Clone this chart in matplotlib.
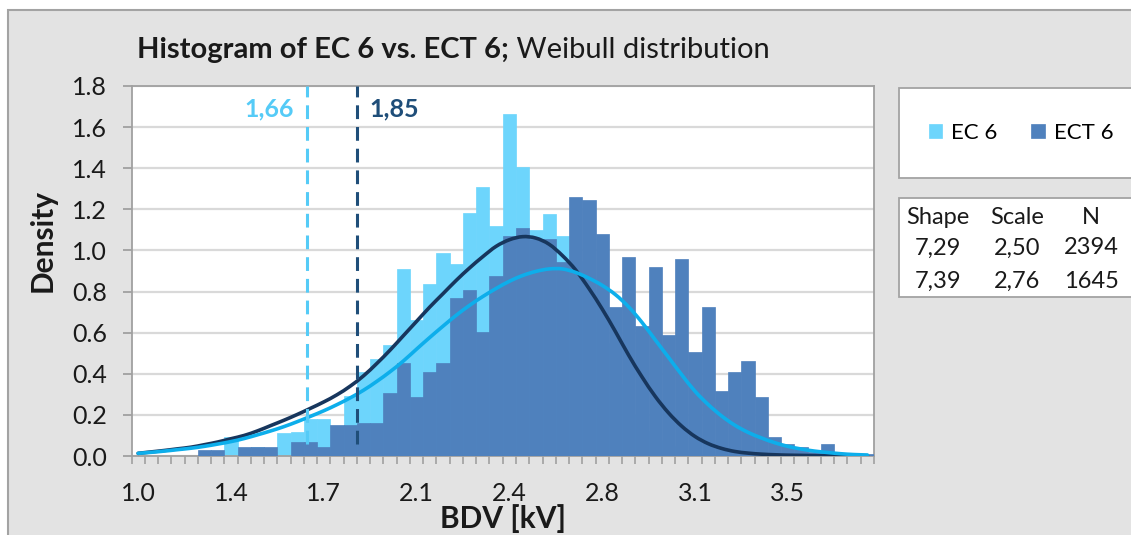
import numpy as np
import matplotlib
matplotlib.use("Agg")
import matplotlib.pyplot as plt
from matplotlib.patches import Rectangle, PathPatch
from matplotlib.path import Path

plt.rcParams['font.family'] = ['Lato', 'DejaVu Sans']

# 56 histogram bins, 0.05 kV wide, starting at 1.0 kV
BIN_START = 1.0
BIN_WIDTH = 0.05

ec6_density = [0, 0, 0, 0, 0, 0, 0, 0.094, 0.03, 0.045,
               0.02, 0.113, 0.118, 0.178, 0.178, 0.12, 0.292, 0.41, 0.472, 0.542,
               0.912, 0.661, 0.837, 0.986, 0.932, 1.184, 1.307, 1.119, 1.663, 1.408,
               1.099, 1.175, 1.070, 0.95, 0.75, 0.55, 0.35, 0.20, 0.12, 0.08,
               0.05, 0.03, 0, 0, 0, 0, 0, 0, 0, 0,
               0, 0, 0, 0, 0, 0]
ect6_density = [0, 0, 0, 0, 0, 0.03, 0.03, 0, 0.042, 0.042,
                0.042, 0, 0.07, 0.07, 0.045, 0.151, 0.151, 0.162, 0.162, 0.305,
                0.451, 0.289, 0.410, 0.451, 0.767, 0.807, 0.602, 0.875, 1.070, 1.109,
                1.055, 1.055, 0.945, 1.258, 1.247, 1.080, 0.723, 0.970, 0.632, 0.918,
                0.589, 0.957, 0.507, 0.723, 0.318, 0.409, 0.464, 0.285, 0.094, 0.057,
                0.043, 0.02, 0.056, 0, 0, 0.01]

# fitted Weibull densities at the bin centres
fit_dark = [0.013, 0.02, 0.027, 0.035, 0.043, 0.055, 0.068, 0.084, 0.10, 0.122,
            0.148, 0.174, 0.202, 0.232, 0.263, 0.298, 0.34, 0.39, 0.45, 0.515,
            0.585, 0.655, 0.725, 0.79, 0.855, 0.915, 0.97, 1.02, 1.052, 1.067,
            1.06, 1.03, 0.975, 0.905, 0.815, 0.715, 0.605, 0.49, 0.385, 0.29,
            0.21, 0.145, 0.095, 0.06, 0.037, 0.022, 0.014, 0.009, 0.006, 0.004,
            0.003, 0.002, 0.001, 0.001, 0.001, 0.001]
fit_light = [0.013, 0.018, 0.024, 0.031, 0.038, 0.047, 0.058, 0.07, 0.085, 0.103,
             0.122, 0.143, 0.167, 0.193, 0.22, 0.25, 0.283, 0.32, 0.363, 0.41,
             0.462, 0.52, 0.577, 0.632, 0.685, 0.733, 0.776, 0.815, 0.85, 0.878,
             0.898, 0.91, 0.91, 0.893, 0.865, 0.83, 0.785, 0.725, 0.65, 0.565,
             0.48, 0.395, 0.315, 0.25, 0.195, 0.15, 0.115, 0.088, 0.065, 0.047,
             0.034, 0.024, 0.017, 0.011, 0.007, 0.005]

b10_values = [1.66, 1.85]
b10_labels = ["1,66", "1,85"]

x_tick_labels = ["1.0", "1.4", "1.7", "2.1", "2.4", "2.8", "3.1", "3.5"]
series_names = ["EC 6", "ECT 6"]
table_header = ["Shape", "Scale", "N"]
table_rows = [["7,29", "2,50", "2394"],
              ["7,39", "2,76", "1645"]]

C_LIGHT_BAR = "#6DD5FC"
C_DARK_BAR = "#4F81BD"
C_LIGHT_FIT = "#0DAEEB"
C_DARK_FIT = "#17365D"
C_LIGHT_DASH = "#55CBF7"
C_DARK_DASH = "#1F4E79"
TXT = "#1A1A1A"

W, H = 1131, 535


def fx(x):
    return x / W


def fy(y):
    return 1 - y / H


def smooth_line(ax, x, y, **kw):
    # Catmull-Rom spline through the points, drawn as cubic Bezier segments
    x = np.asarray(x, float)
    y = np.asarray(y, float)
    verts = [(x[0], y[0])]
    codes = [Path.MOVETO]
    for i in range(len(x) - 1):
        j0 = max(i - 1, 0)
        j3 = min(i + 2, len(x) - 1)
        c1 = (x[i] + (x[i + 1] - x[j0]) / 6, y[i] + (y[i + 1] - y[j0]) / 6)
        c2 = (x[i + 1] - (x[j3] - x[i]) / 6, y[i + 1] - (y[j3] - y[i]) / 6)
        verts += [c1, c2, (x[i + 1], y[i + 1])]
        codes += [Path.CURVE4] * 3
    ax.add_patch(PathPatch(Path(verts, codes), fill=False, **kw))


fig = plt.figure(figsize=(W / 100, H / 100), dpi=100, facecolor="white")
fig.patches.append(Rectangle((fx(8), -0.1), 1.2, fy(10) + 0.1, transform=fig.transFigure,
                             fc="#E3E3E3", ec="#A3A3A3", lw=1.5, zorder=-10))

ax = fig.add_axes([fx(131.5), fy(456), fx(874) - fx(131.5), fy(86) - fy(456)])
ax.set_facecolor("white")

n = len(ec6_density)
centers = BIN_START + BIN_WIDTH * (np.arange(n) + 0.5)

light = ax.bar(centers, ec6_density, width=BIN_WIDTH, color=C_LIGHT_BAR,
               edgecolor=C_LIGHT_BAR, lw=0.5, zorder=2)
dark = ax.bar(centers, ect6_density, width=BIN_WIDTH, color=C_DARK_BAR,
              edgecolor=C_DARK_BAR, lw=0.5, zorder=3)

smooth_line(ax, centers, fit_dark, edgecolor=C_DARK_FIT, lw=2.6, zorder=5, capstyle="round")
smooth_line(ax, centers, fit_light, edgecolor=C_LIGHT_FIT, lw=2.6, zorder=5, capstyle="round")

for v, lab, c, side in zip(b10_values, b10_labels, [C_LIGHT_DASH, C_DARK_DASH], [-1, 1]):
    ax.plot([v, v], [0.06, 1.8], color=c, lw=2.2, dashes=(4.5, 2.6), zorder=6)
    ax.annotate(lab, xy=(v, 1.69), xytext=(side * 9, 0), textcoords="offset points",
                ha="right" if side < 0 else "left", va="center", color=c,
                fontsize=18, fontweight="bold")

ax.set_xlim(BIN_START, BIN_START + BIN_WIDTH * n)
ax.set_ylim(0, 1.8)
ax.set_yticks(np.arange(0, 1.81, 0.2))
ax.set_yticklabels([f"{t:.1f}" for t in np.arange(0, 1.81, 0.2)])
ax.set_xticks(centers[::7])
ax.set_xticklabels(x_tick_labels)
ax.set_xticks(BIN_START + BIN_WIDTH * np.arange(n + 1), minor=True)
ax.tick_params(axis="x", which="major", length=0, pad=19, labelsize=18, labelcolor=TXT)
ax.tick_params(axis="x", which="minor", length=6, width=1.2, color="#A0A0A0", direction="out")
ax.tick_params(axis="y", length=6.5, width=1.3, color="#A0A0A0", labelsize=18, labelcolor=TXT, pad=11)

ax.set_axisbelow(True)
ax.grid(axis="y", color="#D9D9D9", lw=1.6)
for s in ax.spines.values():
    s.set_color("#A0A0A0")
    s.set_linewidth(1.3)

ax.set_xlabel("BDV [kV]", fontsize=21.5, fontweight="bold", color=TXT, va="center")
ax.xaxis.set_label_coords((503 - 131.5) / 742.5, (456 - 519) / 370)
ax.set_ylabel("Density", fontsize=21.5, fontweight="bold", color=TXT, va="center")
ax.yaxis.set_label_coords((43 - 131.5) / 742.5, (456 - 241) / 370)

# title: bold part followed by regular part on the same baseline
t1 = fig.text(fx(137), fy(58), "Histogram of EC 6 vs. ECT 6;", fontsize=21,
              fontweight="bold", color=TXT, va="baseline", ha="left")
fig.canvas.draw()
bb = t1.get_window_extent(fig.canvas.get_renderer()).transformed(fig.transFigure.inverted())
fig.text(bb.x1, fy(58), " Weibull distribution", fontsize=21, color=TXT,
         va="baseline", ha="left")

# legend box
fig.patches.append(Rectangle((fx(899), fy(178)), 1.0, fy(88) - fy(178), transform=fig.transFigure,
                             fc="white", ec="#A3A3A3", lw=1.3, zorder=1))
fig.legend([light, dark], series_names, ncol=2, loc="center",
           bbox_to_anchor=(fx(1021), fy(133)), frameon=False, fontsize=16,
           handlelength=0.62, handleheight=0.62, handletextpad=0.4, columnspacing=1.5)

# parameter table
fig.patches.append(Rectangle((fx(899), fy(297)), 1.0, fy(198) - fy(297), transform=fig.transFigure,
                             fc="white", ec="#A3A3A3", lw=1.3, zorder=1))
col_x = [938, 1017, 1091]
for cx, txt in zip(col_x, table_header):
    fig.text(fx(cx), fy(217), txt, fontsize=17, color=TXT, ha="center", va="center")
for ry, row in zip([248, 281], table_rows):
    for cx, txt in zip(col_x, row):
        fig.text(fx(cx), fy(ry), txt, fontsize=17, color=TXT, ha="center", va="center")

fig.savefig("out.png", dpi=100)
